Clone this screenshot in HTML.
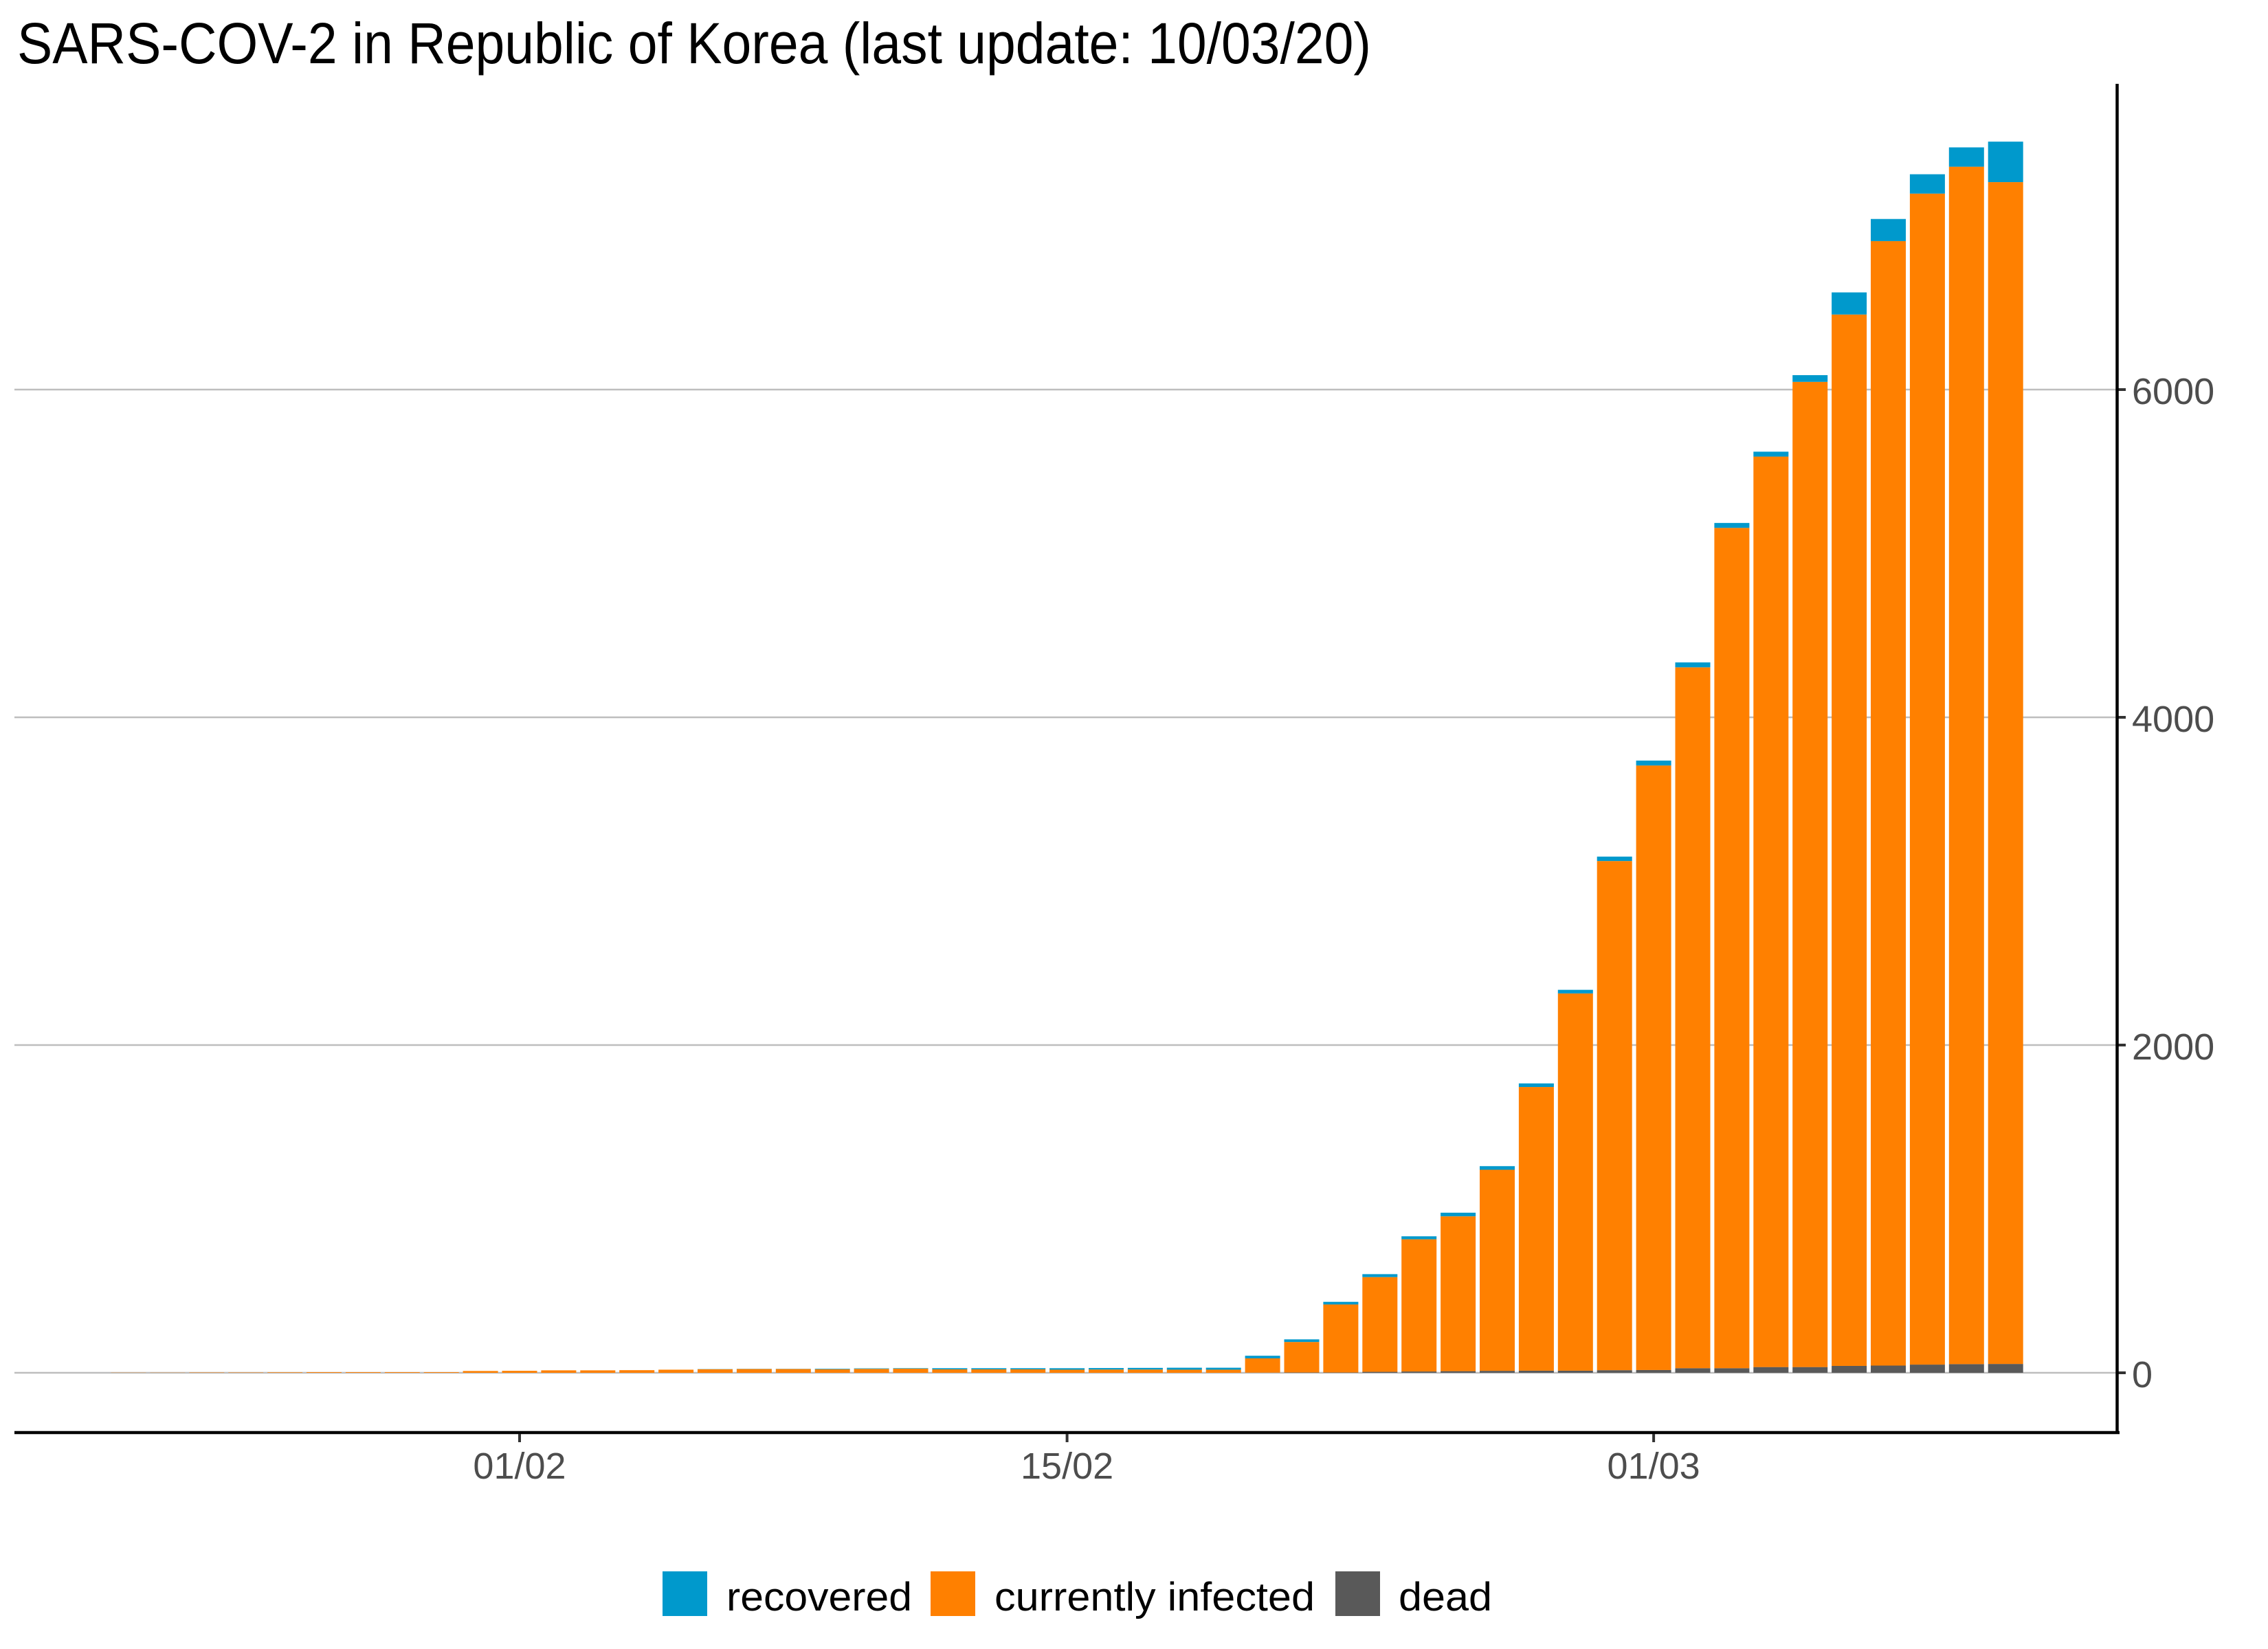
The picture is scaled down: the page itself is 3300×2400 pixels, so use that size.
<!DOCTYPE html>
<html><head><meta charset="utf-8"><style>
html,body{margin:0;padding:0;background:#fff;}
svg{display:block;font-family:"Liberation Sans",sans-serif;}
</style></head><body>
<svg id="chart" width="3300" height="2400" viewBox="0 0 3300 2400" xmlns="http://www.w3.org/2000/svg">
<rect width="3300" height="2400" fill="#fff"/>
<text x="25" y="92" font-size="84" fill="#000" textLength="1970" lengthAdjust="spacingAndGlyphs">SARS-COV-2 in Republic of Korea (last update: 10/03/20)</text>
<g id="grid"></g>
<g id="bars"></g>
<g id="axes"></g>
<g>
  <rect x="964" y="2287" width="65" height="65" fill="#0099CC"/>
  <text x="1057" y="2344" font-size="58" fill="#000" textLength="270" lengthAdjust="spacingAndGlyphs">recovered</text>
  <rect x="1354" y="2287" width="65" height="65" fill="#FF8000"/>
  <text x="1447" y="2344" font-size="58" fill="#000" textLength="466" lengthAdjust="spacingAndGlyphs">currently infected</text>
  <rect x="1943" y="2287" width="65" height="65" fill="#595959"/>
  <text x="2035" y="2344" font-size="58" fill="#000" textLength="136" lengthAdjust="spacingAndGlyphs">dead</text>
</g>
</svg>
<script>
// day offsets relative to 01/02
const days = [-10,-9,-8,-7,-6,-5,-4,-3,-2,-1,0,1,2,3,4,5,6,7,8,9,10,11,12,13,14,15,16,17,18,19,20,21,22,23,24,25,26,27,28,29,30,31,32,33,34,35,36,37,38];
const confirmed = [1,1,2,2,3,4,4,4,4,11,12,15,15,16,19,23,24,24,25,27,28,28,28,28,28,29,30,31,31,104,204,433,602,833,977,1261,1766,2337,3150,3736,4335,5186,5621,6088,6593,7041,7314,7478,7513];
const recovered = [0,0,0,0,0,0,0,0,0,0,0,0,0,0,0,1,1,1,3,3,3,7,7,7,9,9,10,12,12,16,16,16,18,18,22,22,22,22,27,30,30,30,30,41,135,135,118,118,247];
const dead = [0,0,0,0,0,0,0,0,0,0,0,0,0,0,0,0,0,0,0,0,0,0,0,0,0,0,0,0,0,1,2,2,6,8,10,12,13,13,16,17,28,28,35,35,42,44,50,53,54];
const yTicks = [0,2000,4000,6000];
const xTickDays = [0,14,29];
const xTickLabels = ["01/02","15/02","01/03"];

const NS="http://www.w3.org/2000/svg";
const x0=756, pitch=56.9, bw=51;
const y0=1998, ppu=(1998-567)/6000;
const xs=d=>x0+d*pitch;
const ys=v=>y0-v*ppu;
function mk(tag,attrs,parent){const e=document.createElementNS(NS,tag);for(const k in attrs)e.setAttribute(k,attrs[k]);parent.appendChild(e);return e;}
const grid=document.getElementById('grid'),bars=document.getElementById('bars'),axes=document.getElementById('axes');

yTicks.forEach(t=>{
  const l=mk('line',{x1:21,x2:3080,y1:ys(t),y2:ys(t),stroke:'#bebebe','stroke-width':2.5},grid);
  
  
  const tk=mk('line',{x1:3082,x2:3093,y1:ys(t),y2:ys(t),stroke:'#333','stroke-width':4},axes);
  
  
  const tx=mk('text',{x:3102,y:ys(t)+21,'font-size':54,fill:'#4d4d4d'},axes);
  tx.textContent=String(t);
  
  
});

days.forEach((d,i)=>{
  const cx=xs(d), left=cx-bw/2;
  const dd=dead[i], inf=confirmed[i]-recovered[i]-dead[i], rec=recovered[i];
  const r1=mk('rect',{x:left,width:bw,y:ys(dd),height:Math.max(0,y0-ys(dd)),fill:'#595959'},bars);
  
  
  const r2=mk('rect',{x:left,width:bw,y:ys(dd+inf),height:Math.max(0,ys(dd)-ys(dd+inf)),fill:'#FF8000'},bars);
  
  
  const r3=mk('rect',{x:left,width:bw,y:ys(dd+inf+rec),height:Math.max(0,ys(dd+inf)-ys(dd+inf+rec)),fill:'#0099CC'},bars);
  
  
});

const ax=mk('line',{x1:21,x2:3084,y1:2085,y2:2085,stroke:'#000','stroke-width':4.5},axes);


const ay=mk('line',{x1:3080.5,x2:3080.5,y1:122,y2:2087,stroke:'#000','stroke-width':4.5},axes);



xTickDays.forEach((d,i)=>{
  const tk=mk('line',{x1:xs(d),x2:xs(d),y1:2087,y2:2099,stroke:'#333','stroke-width':4},axes);
  
  
  const tx=mk('text',{x:xs(d),y:2152,'font-size':54,fill:'#4d4d4d','text-anchor':'middle'},axes);
  tx.textContent=xTickLabels[i];
  
  
});
</script>
</body></html>
